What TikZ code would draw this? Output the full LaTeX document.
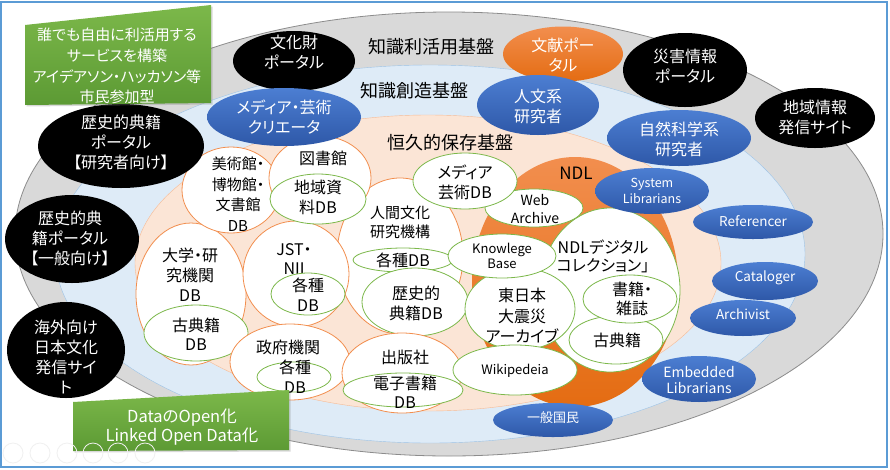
\documentclass[tikz,border=0pt]{standalone}
\usepackage{fontspec}
\setmainfont{Noto Sans CJK JP}[RawFeature=+palt]
\usetikzlibrary{shapes.geometric,shadows}

\def\outerring{(449,234) ellipse [x radius=434pt, y radius=222pt]}
\def\middlering{(430,254) ellipse [x radius=375pt, y radius=189pt]}
\def\innerring{(428,263) ellipse [x radius=293pt, y radius=148pt]}
\def\ndlring{(575,282) ellipse [x radius=103pt, y radius=125pt]}
\definecolor{frameblue}{RGB}{91,155,213}
\definecolor{ringgray}{RGB}{217,217,217}
\definecolor{ringblue}{RGB}{222,235,247}
\definecolor{ringpeach}{RGB}{251,229,214}
\definecolor{ndltop}{RGB}{242,142,78}
\definecolor{ndlbottom}{RGB}{228,108,18}
\definecolor{bluetop}{RGB}{76,126,210}
\definecolor{bluebottom}{RGB}{46,88,168}
\definecolor{greentop}{RGB}{124,184,74}
\definecolor{greenbottom}{RGB}{92,154,52}
\colorlet{ring edge}{black!45}
\colorlet{node orange}{ndltop}
\colorlet{node green}{greentop}
\tikzset{
  screenframe/.style={draw=frameblue, line width=2pt},
  outerfill/.style={fill=ringgray, draw=ring edge, thick},
  middlefill/.style={fill=ringblue, draw=frameblue!60},
  innerfill/.style={fill=ringpeach, draw=node orange!60},
  ndlfill/.style={top color=ndltop, bottom color=ndlbottom},
  wh/.style 2 args={minimum width=#1pt, minimum height=#2pt},
  whiteo/.style={ellipse, inner sep=0pt, fill=white, draw=node orange, line width=.8pt},
  whiteg/.style={ellipse, inner sep=0pt, fill=white, draw=node green, line width=.8pt},
  blk/.style={ellipse, inner sep=0pt, fill=black},
  blu/.style={ellipse, inner sep=0pt, top color=bluetop, bottom color=bluebottom},
  org/.style={ellipse, inner sep=0pt, top color=ndltop, bottom color=ndlbottom},
  greenbox/.style={top color=greentop, bottom color=greenbottom,
    drop shadow={opacity=.3, shadow xshift=1.5pt, shadow yshift=-1.5pt}},
  icon/.style={draw=black!6, line width=.8pt}
  }
\tikzstyle{layerlbl}=[inner sep=0pt, font=\fontsize{18}{22}\selectfont]
\tikzstyle{lbl}=[inner sep=0pt, align=center, font=\fontsize{16}{20}\selectfont]
\tikzstyle{wlbl}=[lbl, text=white]
\tikzstyle{small}=[inner sep=0pt, align=center, font=\fontsize{12.5}{16}\selectfont]

\begin{document}
\begin{tikzpicture}[x=1pt,y=-1pt]
  \useasboundingbox (0,0) rectangle (890,469);
  \fill[white] (0,0) rectangle (890,469);
  \draw[screenframe] (1,2) rectangle (887,467);

  \draw[outerfill] \outerring;
  \draw[middlefill] \middlering;
  \draw[innerfill] \innerring;
  \path[ndlfill] \ndlring;

  \node[layerlbl] (riyou) at (431,47) {知識利活用基盤};
  \node[layerlbl] (souzou) at (414,91) {知識創造基盤};
  \node[layerlbl] (hozon) at (450,143) {恒久的保存基盤};
  \node[layerlbl, font=\fontsize{17}{20}\selectfont] (ndl) at (576,173) {NDL};

  % holdings outside the NDL
  \node[whiteo, wh={126}{156}] (ningen) at (400,256) {};
  \node[lbl, font=\fontsize{15}{19}\selectfont] (ningent) at (400,222) {人間文化\\研究機構};
  \node[whiteg, wh={100}{24}] (ningendb) at (403,260) {};
  \node[lbl] (ningendbt) at (403,260) {各種DB};
  \node[whiteg, wh={106}{68}] (tenseki) at (415,302) {};
  \node[lbl] (tensekit) at (416,303) {歴史的\\典籍DB};

  \node[whiteo, wh={110}{142}] (daigaku) at (191,294) {};
  \node[lbl] (daigakut) at (190,275) {大学・研\\究機関\\DB};
  \node[whiteg, wh={104}{56}] (kotenA) at (196,333) {};
  \node[lbl, font=\fontsize{16}{19}\selectfont] (kotenAt) at (196,334) {古典籍\\DB};

  \node[whiteo, wh={98}{86}] (bijutsu) at (231,190) {};
  \node[lbl, font=\fontsize{15}{20.5}\selectfont] (bijutsut) at (238,194) {美術館・\\博物館・\\文書館\\DB};

  \node[whiteo, wh={106}{106}] (jst) at (296,274) {};
  \node[lbl, font=\fontsize{16}{19}\selectfont] (jstt) at (294,259) {JST・\\NII};
  \node[whiteg, wh={74}{42}] (jstdb) at (308,294) {};
  \node[lbl] (jstdbt) at (308,295) {各種\\DB};

  \node[whiteo, wh={102}{84}] (toshokan) at (320,178) {};
  \node[lbl] (toshokant) at (323,158) {図書館};
  \node[whiteg, wh={96}{50}] (chiiki) at (318,199) {};
  \node[lbl] (chiikit) at (318,197) {地域資\\料DB};

  \node[whiteo, wh={120}{76}] (seifu) at (290,362) {};
  \node[lbl] (seifut) at (288,347) {政府機関};
  \node[whiteg, wh={74}{30}] (seifudb) at (294,377) {};
  \node[lbl] (seifudbt) at (295,377) {各種\\DB};

  \node[whiteo, wh={120}{80}] (shuppan) at (402,373) {};
  \node[lbl] (shuppant) at (405,357) {出版社};
  \node[whiteg, wh={120}{34}] (denshi) at (403,390) {};
  \node[lbl, font=\fontsize{16}{19}\selectfont] (denshit) at (405,392) {電子書籍\\DB};

  % NDL holdings
  \node[whiteg, wh={140}{164}] (dejikore) at (610,290) {};
  \node[lbl, font=\fontsize{16}{18}\selectfont] (dejikoret) at (603,256) {NDLデジタル\\コレクション」};
  \node[whiteg, wh={98}{38}] (warp) at (534,208) {};
  \node[lbl, font=\fontsize{14}{18}\selectfont] (warpt) at (535,209) {Web\\Archive};
  \node[whiteg, wh={104}{56}] (mediadb) at (465,181) {};
  \node[lbl] (mediadbt) at (465,182) {メディア\\芸術DB};
  \node[whiteg, wh={94}{48}] (kotenB) at (616,340) {};
  \node[lbl] (kotenBt) at (617,340) {古典籍};
  \node[whiteg, wh={94}{48}] (shoseki) at (630,299) {};
  \node[lbl, font=\fontsize{16}{19}\selectfont] (shosekit) at (632,299) {書籍・\\雑誌};
  \node[whiteg, wh={110}{82}] (shinsai) at (520,309) {};
  \node[lbl, font=\fontsize{16}{20.5}\selectfont] (shinsait) at (522,316) {東日本\\大震災\\アーカイブ};
  \node[whiteg, wh={108}{44}] (knowledge) at (502,256) {};
  \node[small, font=\fontsize{13}{15.5}\selectfont] (knowledget) at (502,256) {Knowlege\\Base};
  \node[whiteg, wh={124}{50}] (wiki) at (515,370) {};
  \node[small, font=\fontsize{13}{16}\selectfont] (wikit) at (515,371) {Wikipedeia};

  % portals
  \node[blk, wh={122}{60}] (bunkazai) at (294,61) {};
  \node[wlbl] (bunkazait) at (294,52) {文化財\\ポータル};
  \node[org, wh={120}{55}] (bunken) at (563,54) {};
  \node[wlbl] (bunkent) at (563,55) {文献ポー\\タル};
  \node[blk, wh={124}{74}] (saigai) at (685,70) {};
  \node[wlbl] (saigait) at (685,66) {災害情報\\ポータル};
  \node[blk, wh={120}{60}] (chiikijoho) at (815,118) {};
  \node[wlbl] (chiikijohot) at (815,117) {地域情報\\発信サイト};
  \node[blk, wh={166}{84}] (kenkyu) at (121,146) {};
  \node[wlbl] (kenkyut) at (121,142) {歴史的典籍\\ポータル\\【研究者向け】};
  \node[blk, wh={134}{88}] (ippan) at (72,239) {};
  \node[wlbl] (ippant) at (70,238) {歴史的典\\籍ポータル\\【一般向け】};
  \node[blk, wh={118}{96}] (kaigai) at (66,350) {};
  \node[wlbl] (kaigait) at (66,357) {海外向け\\日本文化\\発信サイ\\ト};

  % people
  \node[blu, wh={154}{58}] (creator) at (284,117) {};
  \node[wlbl] (creatort) at (284,117) {メディア・芸術\\クリエータ};
  \node[blu, wh={122}{60}] (jinbun) at (538,105) {};
  \node[wlbl] (jinbunt) at (538,106) {人文系\\研究者};
  \node[blu, wh={144}{56}] (shizen) at (679,138) {};
  \node[wlbl] (shizent) at (679,139) {自然科学系\\研究者};
  \node[blu, wh={114}{46}] (syslib) at (652,191) {};
  \node[small, text=white] (syslibt) at (652,191) {System\\Librarians};
  \node[blu, wh={120}{34}] (referencer) at (753,222) {};
  \node[small, text=white, font=\fontsize{13.5}{16}\selectfont] (referencert) at (753,221) {Referencer};
  \node[blu, wh={106}{38}] (cataloger) at (765,281) {};
  \node[small, text=white, font=\fontsize{13.5}{16}\selectfont] (catalogert) at (765,278) {Cataloger};
  \node[blu, wh={106}{36}] (archivist) at (743,318) {};
  \node[small, text=white, font=\fontsize{13.5}{16}\selectfont] (archivistt) at (743,314) {Archivist};
  \node[blu, wh={114}{46}] (embedded) at (699,379) {};
  \node[small, text=white, font=\fontsize{14}{16}\selectfont] (embeddedt) at (699,380) {Embedded\\Librarians};
  \node[blu, wh={120}{34}] (kokumin) at (553,420) {};
  \node[small, text=white, font=\fontsize{13}{16}\selectfont] (kokumint) at (553,418) {一般国民};

  % open data boxes
  \path[greenbox] (25,25) -- (211,5) -- (211,103) -- (25,105) -- cycle;
  \node[wlbl, font=\fontsize{15}{20.7}\selectfont] (shimin) at (117,66) {誰でも自由に利活用する\\サービスを構築\\アイデアソン・ハッカソン等\\市民参加型};
  \path[greenbox] (73,402) -- (289,390) -- (289,450) -- (73,451) -- cycle;
  \node[wlbl, font=\fontsize{16.5}{19}\selectfont] (lod) at (182,427) {DataのOpen化\\Linked Open Data化};

  \draw[icon] (13,453) circle (10pt) (40,453) circle (10pt) (67,453) circle (10pt)
    (93,453) circle (10pt) (118,453) circle (10pt) (145,453) circle (10pt);
\end{tikzpicture}
\end{document}
